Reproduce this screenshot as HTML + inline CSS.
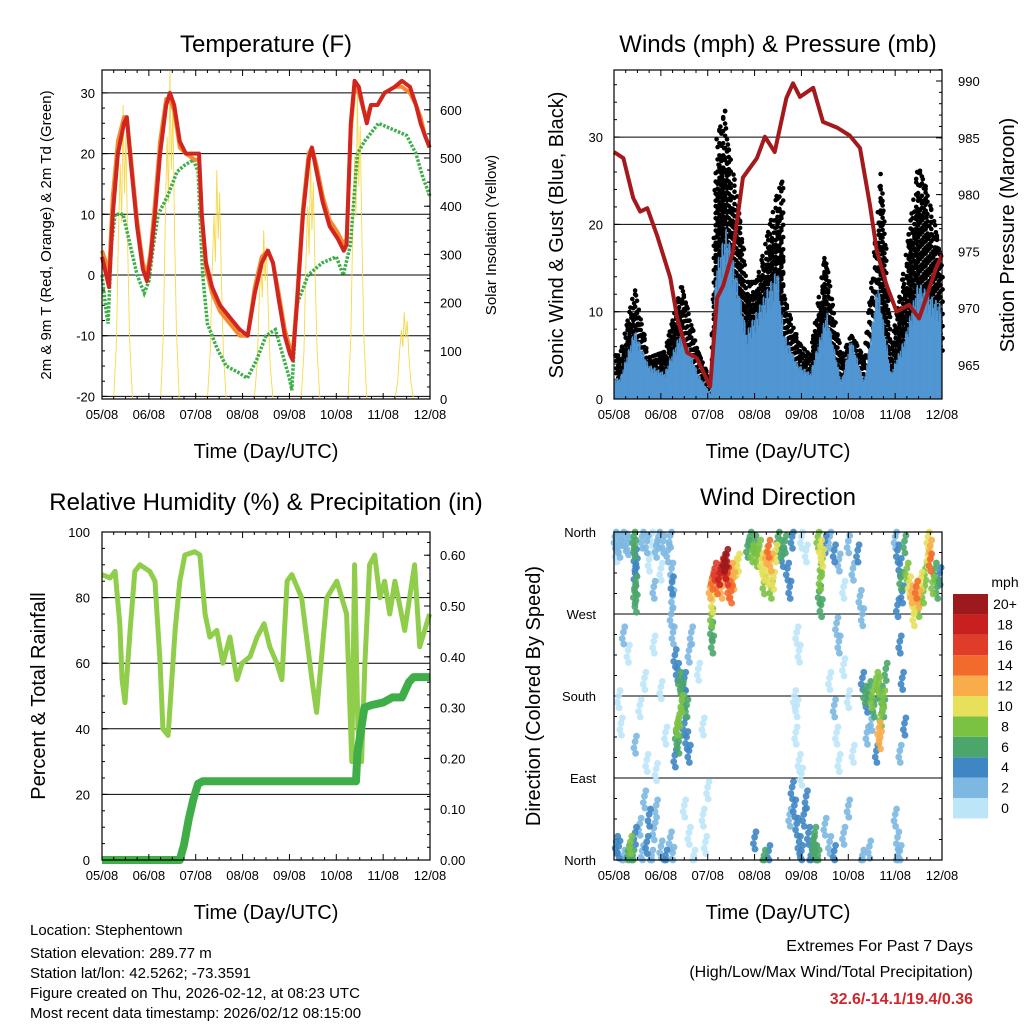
<!DOCTYPE html>
<html><head><meta charset="utf-8"><style>
body{margin:0;background:#fff;}
svg{display:block;font-family:"Liberation Sans",sans-serif;}
</style></head><body>
<svg id="chart" width="1024" height="1024" viewBox="0 0 1024 1024" xmlns="http://www.w3.org/2000/svg">
<rect width="1024" height="1024" fill="#fff"/>
<g id="g1"></g>
<g id="g2"></g>
<g id="g3"></g>
<g id="g4"></g>
<g font-size="24" text-anchor="middle">
<text x="266" y="52">Temperature (F)</text>
<text x="778" y="52">Winds (mph) &amp; Pressure (mb)</text>
<text x="266" y="510">Relative Humidity (%) &amp; Precipitation (in)</text>
<text x="778" y="505">Wind Direction</text>
</g>
<g font-size="20" text-anchor="middle">
<text x="266" y="458">Time (Day/UTC)</text>
<text x="778" y="458">Time (Day/UTC)</text>
<text x="266" y="919">Time (Day/UTC)</text>
<text x="778" y="919">Time (Day/UTC)</text>
</g>
<g text-anchor="middle">
<text transform="translate(51,235) rotate(-90)" font-size="15">2m &amp; 9m T (Red, Orange) &amp; 2m Td (Green)</text>
<text transform="translate(496,235) rotate(-90)" font-size="15">Solar Insolation (Yellow)</text>
<text transform="translate(563,235) rotate(-90)" font-size="20">Sonic Wind &amp; Gust (Blue, Black)</text>
<text transform="translate(1014,235) rotate(-90)" font-size="20">Station Pressure (Maroon)</text>
<text transform="translate(45,696) rotate(-90)" font-size="20">Percent &amp; Total Rainfall</text>
<text transform="translate(540,696) rotate(-90)" font-size="20">Direction (Colored By Speed)</text>
</g>
<g font-size="15">
<text x="30" y="935">Location: Stephentown</text>
<text x="30" y="958">Station elevation: 289.77 m</text>
<text x="30" y="978">Station lat/lon: 42.5262; -73.3591</text>
<text x="30" y="998">Figure created on Thu, 2026-02-12, at 08:23 UTC</text>
<text x="30" y="1018">Most recent data timestamp: 2026/02/12 08:15:00</text>
</g>
<g font-size="16" text-anchor="end">
<text x="973" y="951">Extremes For Past 7 Days</text>
<text x="973" y="977">(High/Low/Max Wind/Total Precipitation)</text>
<text x="973" y="1004" fill="#d0262b" font-weight="bold">32.6/-14.1/19.4/0.36</text>
</g>
</svg>
<script>
const NS="http://www.w3.org/2000/svg";
const dayLabels=["05/08","06/08","07/08","08/08","09/08","10/08","11/08","12/08"];
// Temperature
const redDays=[0,0.09,0.15,0.23,0.34,0.47,0.53,0.62,0.75,0.87,0.96,1.04,1.13,1.24,1.37,1.45,1.54,1.66,1.79,1.98,2.07,2.13,2.22,2.35,2.52,2.73,2.94,3.11,3.26,3.41,3.54,3.65,3.77,3.90,4.01,4.07,4.16,4.29,4.41,4.48,4.58,4.71,4.86,5.03,5.16,5.22,5.31,5.39,5.48,5.59,5.65,5.74,5.88,6.03,6.25,6.40,6.57,6.70,6.80,6.89,6.99];
const redTemp=[3,0,-2,10,20,25,26,18,8,1,-1,3,10,20,28,30,28,22,20,20,20,10,2,-2,-5,-7,-9,-10,-3,2,4,2,-4,-10,-13,-14,-5,10,19,21,17,12,8,6,4,5,25,32,31,27,25,28,28,30,31,32,31,28,25,23,21];
const orangeTemp=[4,2,0,13,22,26,26,19,9,2,0,4,12,22,29,29,27,21,20,19,19,9,1,-3,-6,-8,-10,-10,-2,3,4,2,-3,-9,-12,-13,-4,11,20,21,18,13,9,7,5,6,24,31,30,27,26,28,28,30,31,31,30,28,26,23,21];
const dewDays=[0,0.09,0.13,0.2,0.28,0.45,0.6,0.75,0.9,1.0,1.1,1.2,1.4,1.6,1.75,1.95,2.05,2.15,2.25,2.45,2.65,2.9,3.1,3.3,3.5,3.7,3.85,4.0,4.05,4.15,4.4,4.7,5.0,5.15,5.3,5.45,5.6,5.9,6.2,6.5,6.7,6.85,6.95,7.0];
const dewTemp=[0,-6,-8,5,10,10,5,0,-3,-1,5,10,13,17,18,19,17,0,-8,-12,-15,-16,-17,-14,-10,-9,-13,-17,-19,-5,0,2,3,0,5,20,22,25,24,23,20,16,14,13];
const solarNoon=[0.45,1.45,2.45,3.45,4.45,5.45,6.45];
const solarPeak=[610,680,475,350,500,630,180];
// Winds
const windDays=[0.13,0.44,0.73,1.08,1.44,1.79,2.07,2.17,2.4,2.62,2.83,3.49,3.62,3.92,4.19,4.54,4.85,5.06,5.34,5.63,5.91,6.2,6.49,6.81,6.99];
const windSpd=[2.4,8,4,3,8,3,0.5,15,19.6,14,7.7,15,7.7,4,3,10,2,7,2,13.4,3,7,13.4,11.6,10.8];
const gustDays=[0.13,0.44,0.73,1.08,1.44,1.79,2.07,2.17,2.37,2.4,2.62,2.83,3.04,3.49,3.6,3.62,3.92,4.19,4.5,4.85,5.06,5.34,5.63,5.7,5.91,6.2,6.49,6.6,6.81,6.99];
const gustSpd=[5,12.7,4.7,5.4,13,5.4,2,29.4,33,30,23.7,13.4,13.4,23.7,25,12,6.5,5,16.5,4.7,7.3,4.7,21.4,26.5,5.8,15.3,26.8,25,21,15.3];
const presDays=[0,0.2,0.41,0.56,0.71,0.92,1.2,1.35,1.56,1.77,2.05,2.2,2.33,2.54,2.75,3.05,3.22,3.43,3.68,3.82,3.97,4.25,4.46,4.76,5.03,5.25,5.46,5.61,5.82,6.03,6.3,6.51,6.66,6.87,7.0];
const presMb=[983.75,983.2,979.7,978.5,978.8,976.4,972.7,969.1,966.1,965.6,963.1,970.9,972.0,975.0,981.5,983.2,985.1,983.75,988.5,989.8,988.6,989.4,986.4,985.9,985.2,984.1,979.1,975.0,972.0,969.7,970.3,969.1,970.9,973.5,974.7];
// RH & precip
const rhDays=[0,0.17,0.28,0.38,0.43,0.49,0.6,0.7,0.81,1.02,1.13,1.24,1.3,1.41,1.56,1.66,1.77,1.98,2.09,2.2,2.3,2.45,2.58,2.73,2.88,2.99,3.16,3.31,3.46,3.58,3.73,3.84,3.95,4.05,4.26,4.48,4.58,4.8,5.01,5.22,5.33,5.39,5.46,5.54,5.61,5.71,5.82,5.93,6.03,6.14,6.25,6.46,6.67,6.78,6.99];
const rhPct=[87,86,88,72,55,48,70,88,90,88,85,60,40,38,70,85,93,94,93,75,68,70,60,68,55,60,62,68,72,65,60,55,85,87,80,55,45,80,85,75,30,90,40,30,60,90,93,80,85,75,85,70,90,65,75];
const precipDays=[0,1.66,1.75,1.85,1.95,2.05,2.15,5.42,5.45,5.6,5.75,6.0,6.2,6.4,6.55,6.65,7.0];
const precipIn=[0,0,0.03,0.08,0.12,0.15,0.155,0.155,0.21,0.3,0.305,0.31,0.32,0.32,0.35,0.36,0.36];
// Wind direction
const dirDay=[0.02,0.08,0.12,0.18,0.05,0.25,0.3,0.42,0.44,0.45,0.47,0.45,0.46,0.44,0.47,0.6,0.7,0.8,0.9,0.95,1.05,1.15,1.2,0.75,1.0,0.85,1.23,1.24,1.25,1.22,1.26,2.05,2.1,2.15,2.2,2.25,2.3,2.35,2.38,2.4,2.42,2.45,2.5,2.55,2.6,2.65,2.5,2.3,2.1,2.08,2.1,2.08,2.85,2.9,2.95,3.0,3.05,3.1,3.15,3.2,3.25,3.3,3.35,3.4,3.35,3.45,3.5,3.55,3.6,3.65,3.7,3.75,3.8,3.2,3.3,4.35,4.4,4.45,4.42,4.4,4.38,4.42,4.5,4.6,4.7,4.0,4.1,4.8,4.9,5.0,5.1,5.2,5.25,3.9,3.95,4.75,4.8,5.3,6.0,6.05,6.1,6.12,6.15,6.05,6.2,6.25,6.3,6.35,6.4,6.45,6.5,6.55,6.6,6.65,6.7,6.75,6.8,6.85,6.9,6.95,6.4,6.5,6.7,6.75,1.3,1.35,1.4,1.45,1.5,1.55,1.4,1.35,1.33,1.38,1.5,1.55,1.6,1.3,1.45,1.5,1.6,1.65,5.3,5.35,5.4,5.45,5.5,5.55,5.6,5.65,5.7,5.75,5.7,5.65,5.68,5.6,5.5,5.4,5.8,5.75,0.05,0.1,0.2,0.3,0.35,0.4,0.45,0.55,0.6,0.7,0.75,0.8,0.85,0.9,1.0,1.1,1.2,1.25,0.65,1.5,1.6,1.7,1.9,1.95,2.0,3.8,3.85,3.9,3.95,4.0,4.05,4.1,4.15,4.2,3.75,4.25,4.3,4.35,4.28,3.2,3.0,3.3,4.5,4.6,4.7,4.9,5.0,5.3,5.45,6.0,6.05,6.1,6.05,0.1,0.15,0.2,0.3,0.45,0.55,0.65,0.7,0.85,0.9,1.0,1.1,1.8,1.9,3.85,3.9,3.88,3.95,4.0,4.6,4.7,4.75,4.8,4.9,5.0,5.1,6.1,6.15,6.2,6.1];
const dirDeg=[355,350,345,358,340,352,348,355,345,335,325,315,305,295,285,355,350,358,345,355,350,340,356,330,320,300,320,305,290,270,250,300,310,320,305,315,325,330,322,335,315,300,320,310,325,330,295,300,285,270,240,255,345,355,340,350,335,345,330,320,338,345,330,310,300,340,355,345,335,350,320,300,355,305,315,355,345,335,325,310,295,280,350,355,340,355,340,330,300,350,320,340,290,250,230,260,240,270,355,340,325,310,295,280,350,320,305,295,285,300,290,310,295,320,335,345,305,320,300,315,270,280,355,330,225,210,200,190,180,170,160,150,140,130,150,135,120,115,175,200,230,250,200,185,175,190,180,170,200,195,185,180,160,145,135,120,155,140,210,170,20,15,5,10,20,5,30,40,10,20,50,5,35,60,15,5,25,8,70,60,30,5,50,20,80,80,60,40,20,10,50,70,30,5,50,20,10,5,30,5,25,10,40,20,10,30,60,5,15,50,25,10,5,180,150,250,230,130,170,200,110,240,100,190,140,210,150,180,170,140,110,95,200,170,140,110,215,180,120,240,200,150,120];
const dirSpd=[2,2,2,2,1,2,3,6,7,4,4,4,6,6,6,2,2,1,2,3,2,2,2,1,1,2,3,4,2,2,2,12,14,16,14,18,16,20,18,20,16,14,12,12,10,10,14,12,10,8,6,6,6,6,8,6,8,8,10,10,12,14,12,10,8,10,6,6,4,6,4,4,4,8,10,8,10,10,8,8,6,6,4,2,4,1,1,2,1,2,2,4,2,1,1,3,2,2,3,4,4,6,4,4,6,8,10,12,10,14,12,10,8,8,10,12,8,6,6,4,10,8,10,14,4,4,6,6,4,6,8,8,6,6,4,4,4,4,8,4,2,2,4,6,4,6,8,6,8,8,6,8,8,12,12,4,2,2,6,6,4,4,2,6,8,6,4,2,2,4,4,2,2,2,2,4,2,2,2,1,1,1,1,1,1,4,4,4,4,4,4,4,4,4,2,6,6,6,6,6,4,4,2,2,4,2,2,2,2,2,2,2,2,1,1,2,1,2,1,1,1,1,1,1,1,1,1,1,1,1,1,1,1,2,1,1,1,1,1,4,4,4,2];
const speedLabels=["0","2","4","6","8","10","12","14","16","18","20+"];
const speedColors=["#bde5f8","#7db8e2","#3f86c4","#4aa66a","#7cc242","#e6e05a","#f8ad4a","#f26a2c","#e03c2a","#c7201f","#9c1a1c"];

function el(parent,tag,attrs){const e=document.createElementNS(NS,tag);for(const k in attrs)e.setAttribute(k,attrs[k]);parent.appendChild(e);return e;}
function pathD(xs,ys,fx,fy){return xs.map((d,i)=>(i?"L":"M")+fx(d).toFixed(1)+","+fy(ys[i]).toFixed(1)).join("");}
function interp(xs,ys,d){if(d<=xs[0])return ys[0];for(let i=1;i<xs.length;i++){if(d<=xs[i]){const t=(d-xs[i-1])/(xs[i]-xs[i-1]);return ys[i-1]+t*(ys[i]-ys[i-1]);}}return ys[ys.length-1];}

function frame(g,x0,y0,w,h){
  const r=el(g,"rect",{x:x0,y:y0,width:w,height:h,fill:"none",stroke:"#000","stroke-width":1.2});
  
  
}
function xAxis(g,x0,y0,w,h,fx){
  for(let d=0;d<=7;d+=0.25){const x=fx(d);const major=Number.isInteger(d);const L=major?6:3;
    el(g,"line",{x1:x,x2:x,y1:y0+h,y2:y0+h-L,stroke:"#000"});el(g,"line",{x1:x,x2:x,y1:y0,y2:y0+L,stroke:"#000"});}
  dayLabels.forEach((s,i)=>{const t=el(g,"text",{x:fx(i),y:y0+h+20,"font-size":13,"text-anchor":"middle"});t.textContent=s;
    
    });
}
function yTicks(g,vals,fy,xEdge,dir,labels,lx,anchor,minor,grid,x0,w){
  vals.forEach((v,i)=>{const y=fy(v);el(g,"line",{x1:xEdge,x2:xEdge+dir*6,y1:y,y2:y,stroke:"#000"});
    if(grid&&grid.includes(v))el(g,"line",{x1:x0,x2:x0+w,y1:y,y2:y,stroke:"#000","stroke-width":1});
    if(labels){const t=el(g,"text",{x:lx,y:y+5,"font-size":13,"text-anchor":anchor});t.textContent=labels[i];
      
      }});
  (minor||[]).forEach(v=>{const y=fy(v);el(g,"line",{x1:xEdge,x2:xEdge+dir*3,y1:y,y2:y,stroke:"#000"});});
}
function range(a,b,s){const r=[];for(let v=a;v<=b+1e-9;v+=s)r.push(+v.toFixed(4));return r;}

// Panel 1 temperature
(function(){
 const g=document.getElementById("g1");const X0=102,Y0=70,W=328,H=329;
 const fx=d=>X0+d*46.86, fy=v=>275-v*6.07, fs=v=>399-v*0.482;
 yTicks(g,[-20,-10,0,10,20,30],fy,X0,1,["-20","-10","0","10","20","30"],95,"end",range(-20,32,2.5),[-20,-10,0,10,20,30],X0,W);
 yTicks(g,[0,100,200,300,400,500,600],fs,X0+W,-1,["0","100","200","300","400","500","600"],440,"start",range(0,670,25));
 let sd=[];let sv=[];
 solarNoon.forEach((n,i)=>{const pts=[-0.2,-0.14,-0.1,-0.06,-0.03,0,0.03,0.06,0.1,0.14,0.2];const sh=[0,0.2,0.55,0.8,0.6,1,0.7,0.9,0.5,0.2,0];
   pts.forEach((p,j)=>{sd.push(n+p);sv.push(solarPeak[i]*sh[j]);});});
 sd=[0].concat(sd,[7]);sv=[0].concat(sv,[0]);
 const sp=el(g,"path",{d:pathD(sd,sv,fx,fs),fill:"none",stroke:"#f6d94a","stroke-width":0.9});
 
 
 const dw=el(g,"path",{d:pathD(dewDays,dewTemp,fx,fy),fill:"none",stroke:"#3fae49","stroke-width":3.5,"stroke-dasharray":"2.5 1.5"});
 
 
 const o=el(g,"path",{d:pathD(redDays,orangeTemp,fx,fy),fill:"none",stroke:"#f48a30","stroke-width":4,"stroke-linejoin":"round"});
 
 
 const r=el(g,"path",{d:pathD(redDays,redTemp,fx,fy),fill:"none",stroke:"#d0261f","stroke-width":4,"stroke-linejoin":"round"});
 
 
 xAxis(g,X0,Y0,W,H,fx);frame(g,X0,Y0,W,H);
})();

// Panel 2 winds
(function(){
 const g=document.getElementById("g2");const X0=614,Y0=70,W=328,H=329;
 const fx=d=>X0+d*46.86, fy=v=>399-v*8.73, fp=p=>365-(p-965)*11.36;
 yTicks(g,[0,10,20,30],fy,X0,1,["0","10","20","30"],603,"end",range(0,37,2),[10,20,30],X0,W);
 yTicks(g,[965,970,975,980,985,990],fp,X0+W,-1,["965","970","975","980","985","990"],958,"start",range(963,991,1));
 const gg=el(g,"g",{fill:"#000"});
 
 
 const jit=[0,0.9,0.35,1.25,0.6,0.15,1.05,0.45];
 let k=0;
 for(let d=0.03;d<=6.99;d+=0.02){k++;const hi=interp(gustDays,gustSpd,d)*(k%3===0?0.88:(k%5===0?0.8:1));const lo=interp(windDays,windSpd,d)*0.5;
   for(let v=lo+jit[k%8];v<=hi;v+=1.4){el(gg,"circle",{cx:(fx(d)+(k%2)).toFixed(1),cy:fy(v).toFixed(1),r:2.3});}
   el(gg,"circle",{cx:fx(d).toFixed(1),cy:fy(hi).toFixed(1),r:2.3});}
 const bg=el(g,"g",{stroke:"#5196d2","stroke-width":1.3});
 
 
 const fac=[1,0.75,0.9,0.6,0.95,0.8,0.7,1];
 k=0;
 for(let d=0.005;d<=6.995;d+=0.01){k++;const w=interp(windDays,windSpd,d)*fac[k%8];
   el(bg,"line",{x1:fx(d).toFixed(1),x2:fx(d).toFixed(1),y1:399,y2:fy(w).toFixed(1)});}
 const p=el(g,"path",{d:pathD(presDays,presMb,fx,fp),fill:"none",stroke:"#a3191c","stroke-width":4,"stroke-linejoin":"round"});
 
 
 xAxis(g,X0,Y0,W,H,fx);frame(g,X0,Y0,W,H);
})();

// Panel 3 RH
(function(){
 const g=document.getElementById("g3");const X0=102,Y0=532,W=328,H=328;
 const fx=d=>X0+d*46.86, fy=v=>860-v*3.28, fp=v=>860-v*508;
 yTicks(g,[0,20,40,60,80,100],fy,X0,1,["0","20","40","60","80","100"],90,"end",range(0,100,5),[20,40,60,80],X0,W);
 yTicks(g,[0,0.1,0.2,0.3,0.4,0.5,0.6],fp,X0+W,-1,["0.00","0.10","0.20","0.30","0.40","0.50","0.60"],440,"start",range(0,0.64,0.025));
 const rh=el(g,"path",{d:pathD(rhDays,rhPct,fx,fy),fill:"none",stroke:"#8fcd4b","stroke-width":5,"stroke-linejoin":"round"});
 
 
 const pr=el(g,"path",{d:pathD(precipDays,precipIn,fx,fp),fill:"none",stroke:"#3fae49","stroke-width":8,"stroke-linejoin":"round"});
 
 
 xAxis(g,X0,Y0,W,H,fx);frame(g,X0,Y0,W,H);
})();

// Panel 4 direction
(function(){
 const g=document.getElementById("g4");const X0=614,Y0=532,W=328,H=328;
 const fx=d=>X0+d*46.86, fy=v=>860-v*0.9111;
 yTicks(g,[0,90,180,270,360],fy,X0,1,["North","East","South","West","North"],596,"end",range(0,360,22.5),[90,180,270],X0,W);
 yTicks(g,[0,90,180,270,360],fy,X0+W,-1,null,0,"",range(0,360,22.5));
 const dg=el(g,"g",{});
 
 
 const order=dirDay.map((_,i)=>i).sort((a,b)=>dirSpd[a]-dirSpd[b]);
 const offs=[[0,0],[0.03,6],[-0.025,-7],[0.01,-13]];
 order.forEach(i=>{const c=speedColors[Math.min(10,Math.floor(dirSpd[i]/2))];
   offs.forEach(o=>{const dd=Math.min(7,Math.max(0,dirDay[i]+o[0]));const dv=Math.min(360,Math.max(0,dirDeg[i]+o[1]));
     el(dg,"circle",{cx:fx(dd).toFixed(1),cy:fy(dv).toFixed(1),r:3.4,fill:c,"fill-opacity":0.9});});});
 xAxis(g,X0,Y0,W,H,fx);frame(g,X0,Y0,W,H);
 const cb=el(g,"g",{});
 
 
 const t=el(cb,"text",{x:1005,y:587,"font-size":14,"text-anchor":"middle"});t.textContent="mph";
 speedLabels.forEach((s,i)=>{const y=798-i*20.4;
   el(cb,"rect",{x:953,y:y,width:35,height:20.4,fill:speedColors[i]});
   const l=el(cb,"text",{x:1005,y:y+15,"font-size":14,"text-anchor":"middle"});l.textContent=s;
   
   });
})();
</script>
</body></html>
